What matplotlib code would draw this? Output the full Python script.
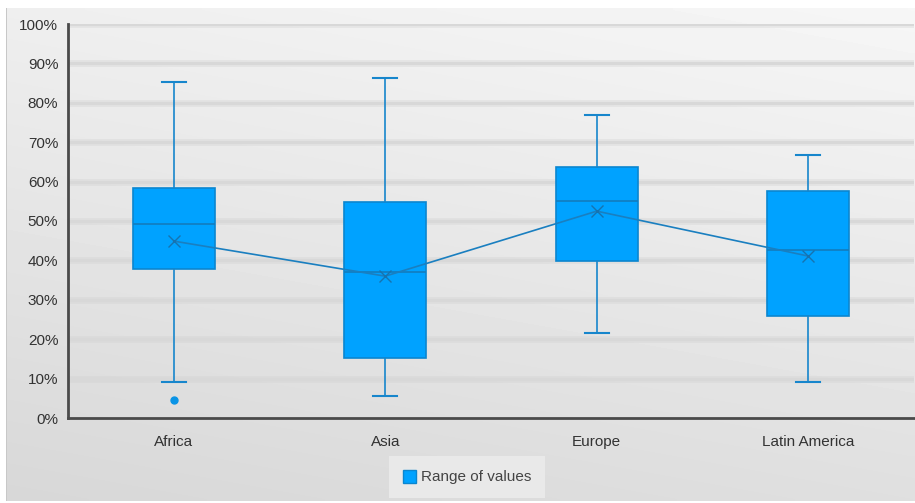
import numpy as np
import matplotlib.pyplot as plt
from matplotlib.patches import Rectangle
from matplotlib.ticker import PercentFormatter

plt.rcParams['font.family'] = ['Liberation Sans', 'DejaVu Sans']

regions = ['Africa', 'Asia', 'Europe', 'Latin America']
whisk_lo = [9.1, 5.6, 21.6, 9.1]
q1 = [37.8, 15.2, 39.8, 25.9]
median = [49.2, 37.1, 55.1, 42.6]
q3 = [58.4, 54.8, 63.7, 57.6]
whisk_hi = [85.3, 86.3, 76.9, 66.8]
mean = [44.9, 36.0, 52.5, 41.1]
outliers = [[4.6], [], [], []]

box_fill = '#00a2ff'
box_edge = '#0b86cf'
line_col = '#1786cc'

fig = plt.figure(figsize=(9.15, 5.03), dpi=100)

# background panel with soft gradient
bg = fig.add_axes([0, 0, 1, 1], zorder=-10)
bg.set_xlim(0, 915)
bg.set_ylim(503, 0)
bg.axis('off')
xx, yy = np.meshgrid(np.linspace(0, 1, 200), np.linspace(0, 1, 120))
shade = 0.965 - 0.09 * yy - 0.03 * (1 - xx)
bg.imshow(shade, cmap='gray', vmin=0, vmax=1, extent=[7, 915, 501, 8],
          aspect='auto', interpolation='bilinear', zorder=0)
bg.add_patch(Rectangle((6, 8), 1.2, 493, color='#c8c8c8', lw=0, zorder=1))

ax = fig.add_axes([68 / 915, 1 - 418 / 503, 846 / 915, 394 / 503])
ax.patch.set_alpha(0)

stats = []
for i, name in enumerate(regions):
    stats.append(dict(label=name, whislo=whisk_lo[i], q1=q1[i], med=median[i],
                      q3=q3[i], whishi=whisk_hi[i], mean=mean[i], fliers=outliers[i]))

pos = np.arange(len(regions))
ax.bxp(stats, positions=pos, widths=0.39, patch_artist=True, showmeans=False,
       boxprops=dict(facecolor=box_fill, edgecolor=box_edge, linewidth=1.2),
       medianprops=dict(color='#137cbd', linewidth=1.2),
       whiskerprops=dict(color=line_col, linewidth=1.2),
       capprops=dict(color=line_col, linewidth=1.5),
       capwidths=0.115,
       flierprops=dict(marker='o', markersize=5, markerfacecolor='#0a94e6',
                       markeredgecolor='#0a94e6'))

ax.plot(pos, mean, color='#1a7fc0', linewidth=1.2, marker='x', markersize=9,
        markeredgewidth=1.0, markeredgecolor='#1673b0', zorder=5)

ax.set_xlim(-0.5, 3.5)
ax.set_ylim(0, 100)
ax.set_yticks(np.arange(0, 101, 10))
ax.yaxis.set_major_formatter(PercentFormatter(decimals=0))
for v in range(10, 101, 10):
    ax.axhline(v, color='#d2d2d2', linewidth=5, alpha=0.35, zorder=0)
    ax.axhline(v, color='#d8d8d8', linewidth=2.2, zorder=0)

for s in ['top', 'right']:
    ax.spines[s].set_visible(False)
for s in ['left', 'bottom']:
    ax.spines[s].set_color('#4a4a4a')
    ax.spines[s].set_linewidth(2)
ax.tick_params(length=0, labelsize=11, colors='#333333')
ax.tick_params(axis='y', pad=7)
ax.tick_params(axis='x', pad=12)

# legend
bg.add_patch(Rectangle((389, 456), 156, 42, color='#e9e9e9', lw=0, zorder=5))
bg.add_patch(Rectangle((403, 470), 13, 13, facecolor=box_fill, edgecolor=box_edge,
                       lw=1, zorder=6))
bg.text(421, 477, 'Range of values', fontsize=11, color='#444444', va='center',
        ha='left', zorder=6)

fig.savefig('out.png', dpi=100)
